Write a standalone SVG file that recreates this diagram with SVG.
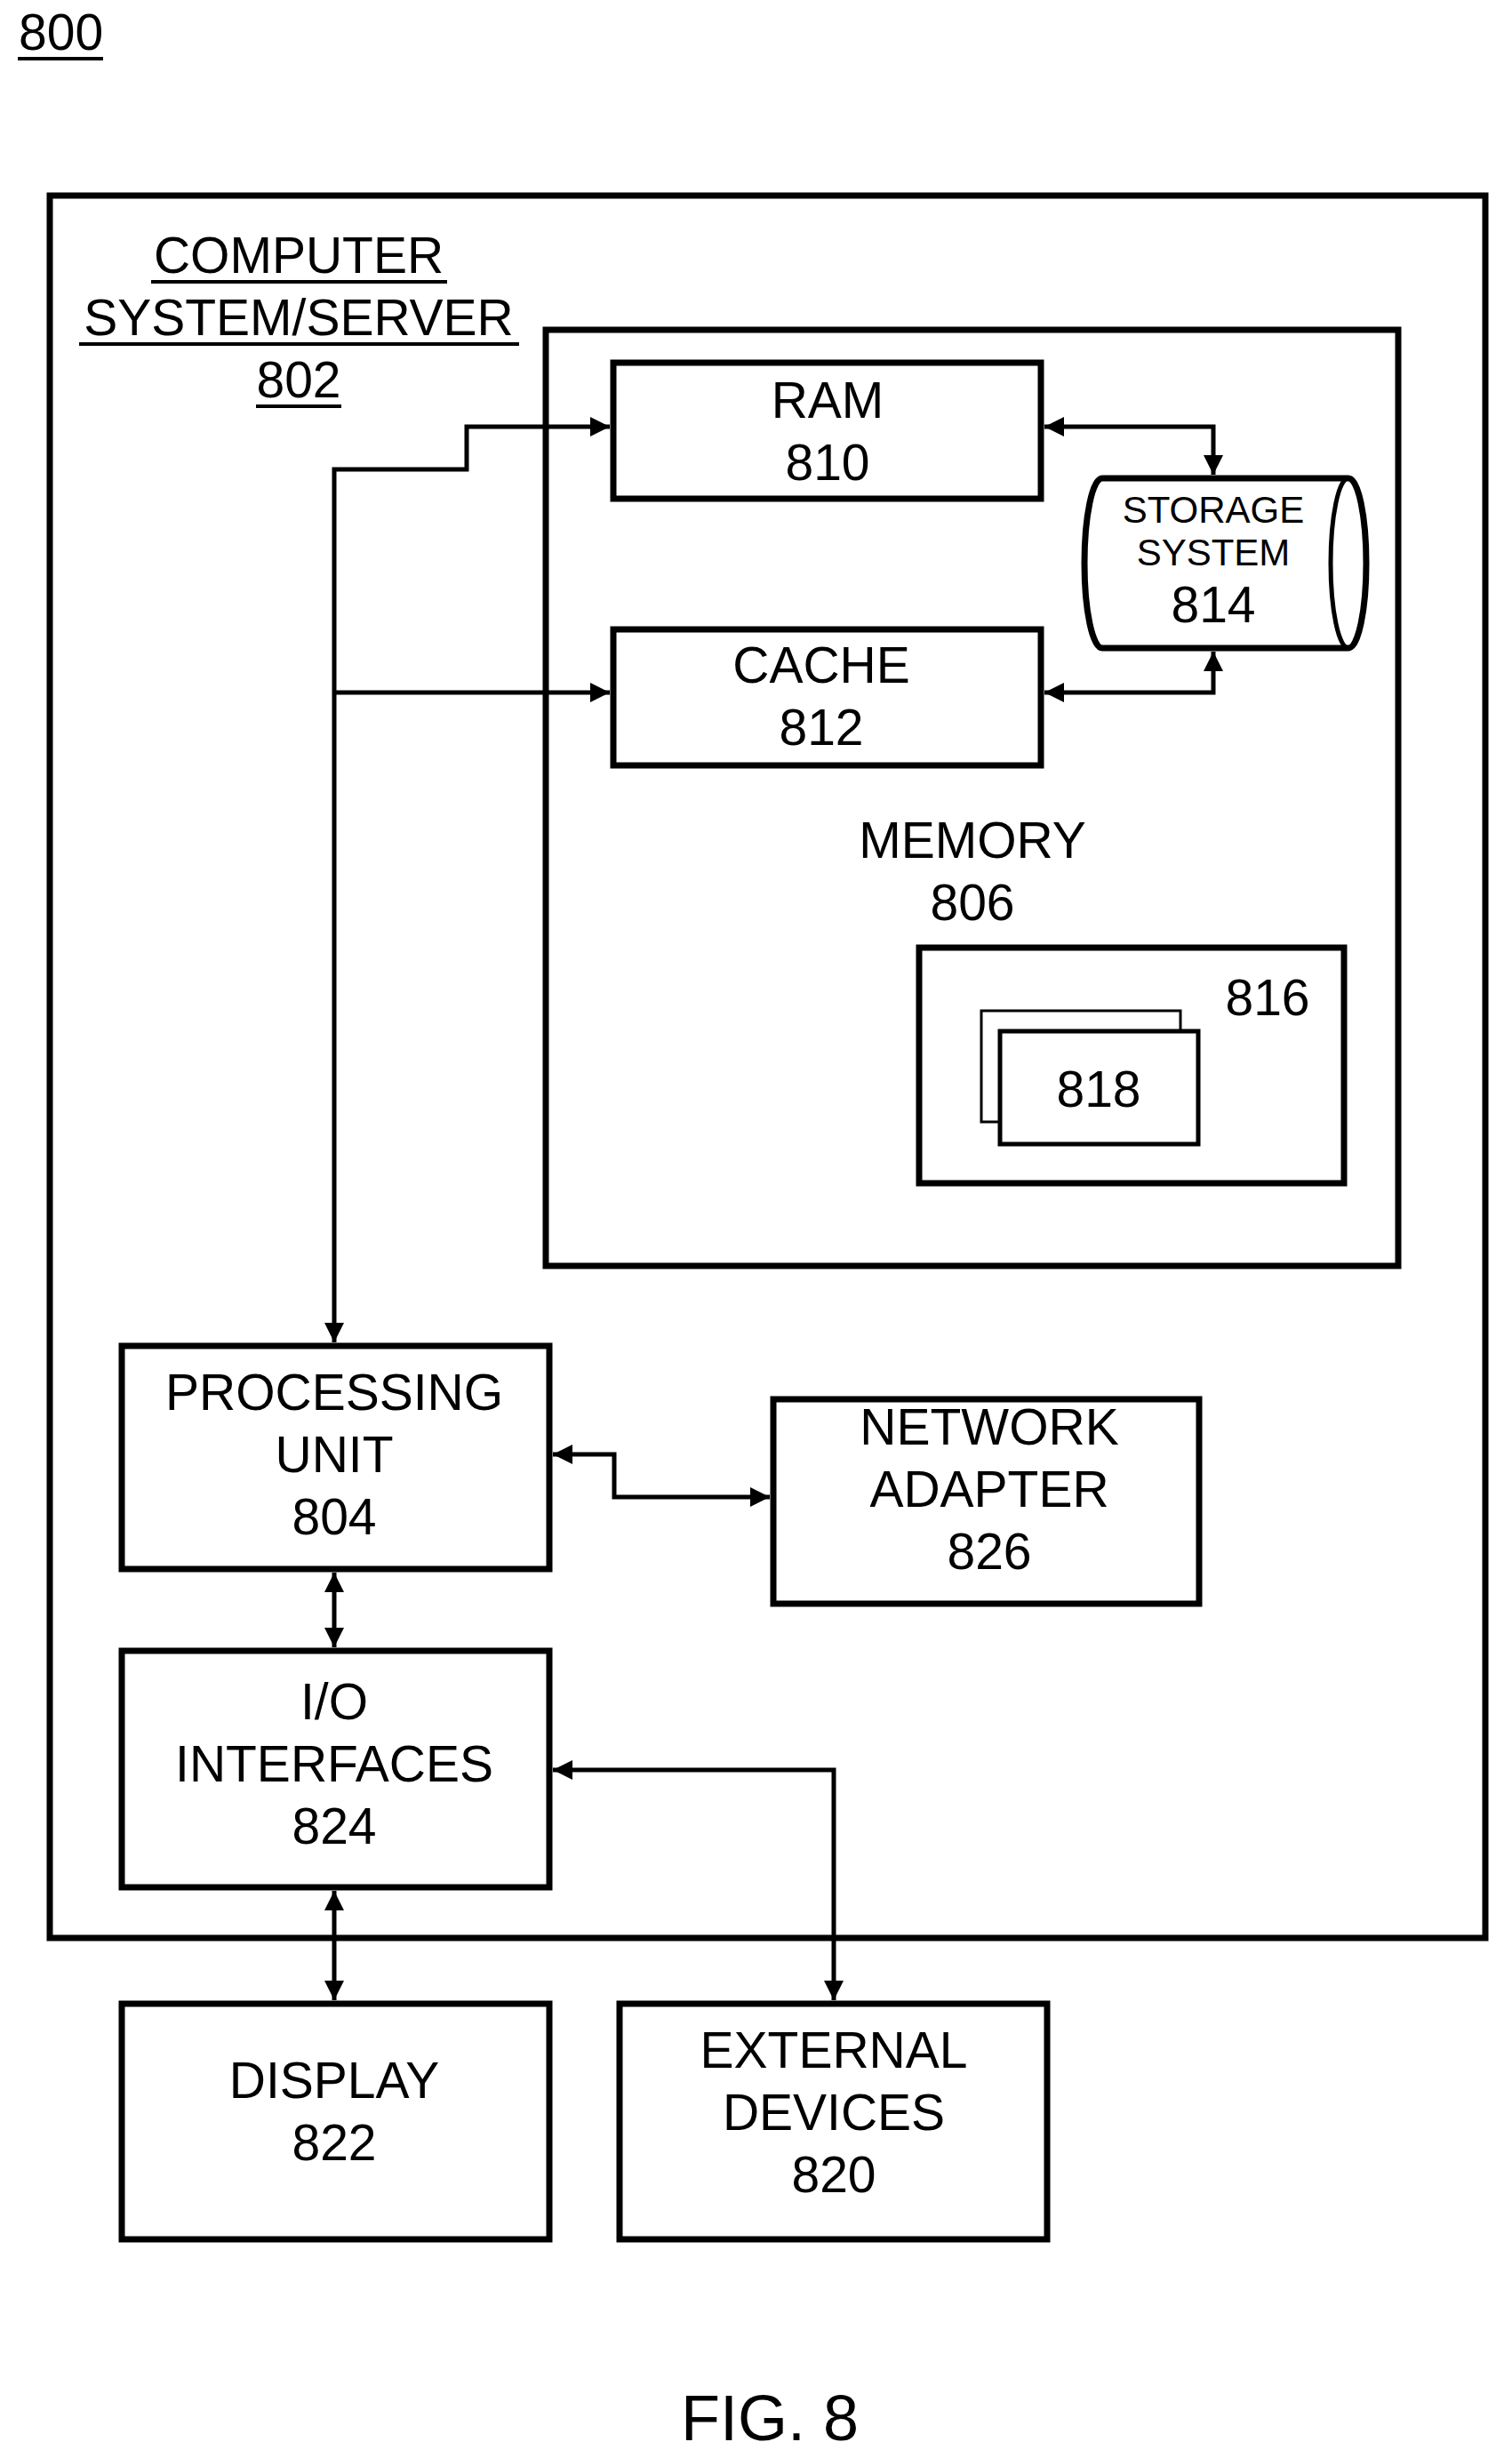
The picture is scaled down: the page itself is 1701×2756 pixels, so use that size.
<svg xmlns="http://www.w3.org/2000/svg" width="1701" height="2756" viewBox="0 0 1701 2756">
<style>
text{font-family:"Liberation Sans",Arial,sans-serif;font-size:57px;fill:#000;text-anchor:middle}
.b{fill:#fff;stroke:#000;stroke-width:7}
.c{fill:none;stroke:#000;stroke-width:5}
.s{font-size:42px}
</style>
<defs>
<marker id="a" viewBox="0 0 10 10" refX="10" refY="5" markerWidth="24" markerHeight="22" orient="auto-start-reverse" markerUnits="userSpaceOnUse"><path d="M0,0L10,5L0,10z" fill="#000"/></marker>
</defs>
<rect x="0" y="0" width="1701" height="2756" fill="#fff"/>
<g id="label800"><text x="21" y="56" style="text-anchor:start">800</text><line x1="20" y1="66" x2="116" y2="66" stroke="#000" stroke-width="4"/></g>
<g id="n802"><rect class="b" x="56" y="220" width="1615" height="1960"/>
<text x="336" y="307">COMPUTER</text><line x1="170" y1="317" x2="503" y2="317" stroke="#000" stroke-width="4"/>
<text x="336" y="377">SYSTEM/SERVER</text><line x1="89" y1="387" x2="584" y2="387" stroke="#000" stroke-width="4"/>
<text x="336" y="447">802</text><line x1="288" y1="457" x2="384" y2="457" stroke="#000" stroke-width="4"/></g>
<g id="n806"><rect class="b" x="614" y="371" width="959" height="1053"/><text x="1094" y="965">MEMORY</text><text x="1094" y="1035">806</text></g>
<g id="n810"><rect class="b" x="690" y="408" width="481" height="153"/><text x="931" y="470">RAM</text><text x="931" y="540">810</text></g>
<g id="n812"><rect class="b" x="690" y="708" width="481" height="153"/><text x="924" y="768">CACHE</text><text x="924" y="838">812</text></g>
<g id="n814"><path class="b" d="M1240,538H1517A20,95.5 0 0 1 1517,729H1240A20,95.5 0 0 1 1240,538Z"/><path class="c" d="M1517,538A20,95.5 0 0 0 1517,729"/>
<text class="s" x="1365" y="588">STORAGE</text><text class="s" x="1365" y="636">SYSTEM</text><text x="1365" y="700">814</text></g>
<g id="n816"><rect class="b" x="1034" y="1066" width="478" height="265"/><text x="1426" y="1142">816</text></g>
<g id="n818"><rect x="1104" y="1137" width="224" height="125" fill="#fff" stroke="#000" stroke-width="3"/><rect class="b" x="1125" y="1160" width="223" height="127" style="stroke-width:5"/><text x="1236" y="1245">818</text></g>
<g id="n804"><rect class="b" x="137" y="1514" width="481" height="251"/><text x="376" y="1586">PROCESSING</text><text x="376" y="1656">UNIT</text><text x="376" y="1726">804</text></g>
<g id="n826"><rect class="b" x="870" y="1574" width="479" height="230"/><text x="1113" y="1625">NETWORK</text><text x="1113" y="1695">ADAPTER</text><text x="1113" y="1765">826</text></g>
<g id="n824"><rect class="b" x="137" y="1857" width="481" height="266"/><text x="376" y="1934">I/O</text><text x="376" y="2004">INTERFACES</text><text x="376" y="2074">824</text></g>
<g id="n822"><rect class="b" x="137" y="2254" width="481" height="265"/><text x="376" y="2360">DISPLAY</text><text x="376" y="2430">822</text></g>
<g id="n820"><rect class="b" x="697" y="2254" width="481" height="265"/><text x="938" y="2326">EXTERNAL</text><text x="938" y="2396">DEVICES</text><text x="938" y="2466">820</text></g>
<g id="connectors" class="c">
<path d="M376,1510V528H525V480H686" marker-start="url(#a)" marker-end="url(#a)"/>
<path d="M376,779H686" marker-end="url(#a)"/>
<path d="M1175,480H1365V534" marker-start="url(#a)" marker-end="url(#a)"/>
<path d="M1175,779H1365V733" marker-start="url(#a)" marker-end="url(#a)"/>
<path d="M622,1636H691V1684H866" marker-start="url(#a)" marker-end="url(#a)"/>
<path d="M376,1769V1853" marker-start="url(#a)" marker-end="url(#a)"/>
<path d="M376,2127V2250" marker-start="url(#a)" marker-end="url(#a)"/>
<path d="M622,1991H938V2250" marker-start="url(#a)" marker-end="url(#a)"/>
</g>
<text x="866" y="2745" style="font-size:72px">FIG. 8</text>
</svg>
